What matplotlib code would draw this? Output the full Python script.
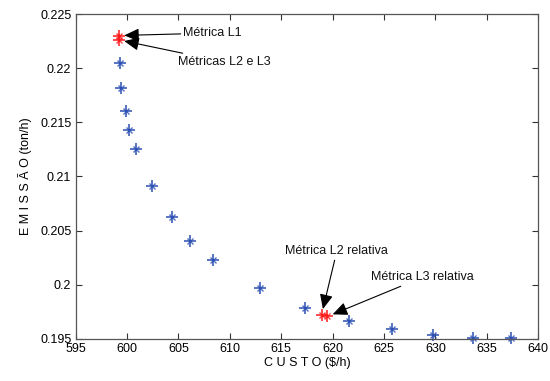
import numpy as np
import matplotlib.pyplot as plt

plt.rcParams['font.family'] = ['Liberation Sans', 'DejaVu Sans']

# pareto front (blue stars)
custo = [599.3, 599.45, 599.9, 600.2, 600.9, 602.4, 604.4, 606.1, 608.4,
         612.9, 617.3, 621.6, 625.8, 629.8, 633.7, 637.3]
emissao = [0.22053, 0.21815, 0.21609, 0.21429, 0.21255, 0.20909, 0.20624,
           0.20402, 0.20229, 0.19966, 0.19784, 0.19663, 0.19592, 0.19536,
           0.19508, 0.19505]

# selected solutions (red stars)
sel_nomes = ['Métrica L1', 'Métricas L2 e L3', 'Métrica L2 relativa', 'Métrica L3 relativa']
sel_custo = [599.2, 599.2, 618.93, 619.5]
sel_emissao = [0.22305, 0.22265, 0.19722, 0.19704]

xticks = [595, 600, 605, 610, 615, 620, 625, 630, 635, 640]
yticks = [0.195, 0.2, 0.205, 0.21, 0.215, 0.22, 0.225]
yticklabels = ['0.195', '0.2', '0.205', '0.21', '0.215', '0.22', '0.225']

fig = plt.figure(figsize=(5.5, 3.81), dpi=100)
ax = fig.add_axes([0.1373, 0.1115, 0.8414, 0.8505])

# matlab style asterisk: a "+" with a smaller "x"
for xs, ys, c in [(custo, emissao, '#2b4fb3'), (sel_custo, sel_emissao, '#ff1a1a')]:
    ax.plot(xs, ys, '+', color=c, markersize=8, mew=1.1, clip_on=False)
    ax.plot(xs, ys, 'x', color=c, markersize=4.5, mew=1.0, alpha=0.8, clip_on=False)

ax.set_xlim(595, 640)
ax.set_ylim(0.195, 0.225)
ax.set_xticks(xticks)
ax.set_xticklabels([str(t) for t in xticks])
ax.set_yticks(yticks)
ax.set_yticklabels(yticklabels)
ax.tick_params(direction='in', length=4, top=True, right=True, labelsize=9,
               color='#333333', pad=3)
for s in ax.spines.values():
    s.set_color('#555555')
    s.set_linewidth(0.9)

ax.set_xlabel('C U S T O ($/h)', fontsize=9, labelpad=2)
ax.set_ylabel('E M I S S Ã O (ton/h)', fontsize=9, labelpad=6)

arrow = dict(arrowstyle='-|>,head_length=0.9,head_width=0.4', color='black',
             lw=0.8, shrinkA=0, shrinkB=4, mutation_scale=10)

# text positions for the annotations
txt_pos = [(605.5, 0.22328), (605.0, 0.2206), (615.4, 0.20306), (623.7, 0.20065)]

for nome, cx, cy, (tx, ty) in zip(sel_nomes, sel_custo, sel_emissao, txt_pos):
    ax.annotate(nome, xy=(cx, cy), xytext=(tx, ty), fontsize=9, color='#111111',
                ha='left', va='center', arrowprops=arrow)

fig.savefig('out.png', dpi=100)
